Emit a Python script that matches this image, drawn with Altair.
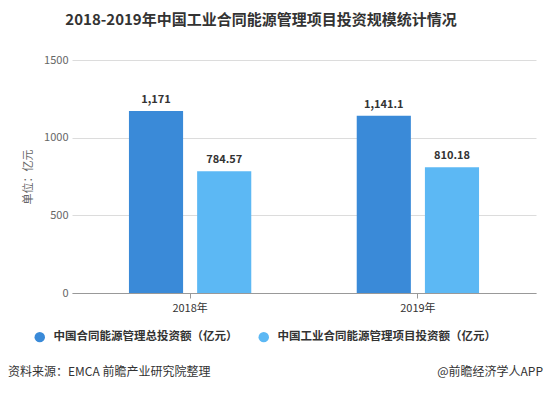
import altair as alt
import pandas as pd

years = ["2018年", "2019年"]
series = ["中国合同能源管理总投资额（亿元）", "中国工业合同能源管理项目投资额（亿元）"]
total_invest = [1171, 1141.1]
industry_invest = [784.57, 810.18]
colors = ["#3a8ad8", "#5cb8f4"]

rows = []
for i, y in enumerate(years):
    rows.append({"year": y, "series": series[0], "value": total_invest[i]})
    rows.append({"year": y, "series": series[1], "value": industry_invest[i]})
df = pd.DataFrame(rows)

font = "Noto Sans CJK SC"
yscale = alt.Scale(domain=[0, 1500], nice=False)

x_enc = alt.X("year:N", title=None, sort=years,
              scale=alt.Scale(paddingInner=0.463, paddingOuter=0.25),
              axis=alt.Axis(labelAngle=0, labelColor="#333", labelFontSize=11, labelFont=font,
                            domainColor="#999", tickColor="#999", tickSize=5, labelPadding=4,
                            grid=False))
xoff = alt.XOffset("series:N", sort=series, scale=alt.Scale(paddingInner=0.206, paddingOuter=0))
y_enc = alt.Y("value:Q", title="单位：亿元", scale=yscale,
              axis=alt.Axis(values=[0, 500, 1000, 1500], format="d", labelColor="#666", labelFontSize=11,
                            labelFont=font, titleFont=font, titleFontSize=11, titleColor="#666",
                            titleFontWeight="normal", titlePadding=10, labelPadding=4,
                            domain=False, ticks=False, gridColor="#dcdcdc"))

bars = alt.Chart(df).mark_bar().encode(
    x=x_enc, xOffset=xoff, y=y_enc,
    color=alt.Color("series:N", sort=series, scale=alt.Scale(domain=series, range=colors),
                    legend=alt.Legend(title=None, orient="none", legendX=-38, legendY=271,
                                      direction="horizontal", columns=2, columnPadding=20,
                                      symbolType="circle", symbolSize=110, symbolStrokeWidth=0,
                                      labelFont=font, labelFontSize=11.5, labelColor="#333",
                                      labelFontWeight="bold", labelLimit=400, labelOffset=8)),
)

labels = alt.Chart(df).mark_text(dy=-6, fontWeight="bold", fontSize=11, font=font,
                                 color="#333", baseline="bottom").encode(
    x=alt.X("year:N", sort=years), xOffset=alt.XOffset("series:N", sort=series),
    y=alt.Y("value:Q", scale=yscale),
    text=alt.Text("value:Q", format=","),
)

src = pd.DataFrame({"t": ["资料来源：EMCA 前瞻产业研究院整理"]})
source = alt.Chart(src).mark_text(align="left", baseline="middle", fontSize=12, font=font,
                                  color="#333").encode(
    x=alt.value(-64), y=alt.value(312), text="t:N")
app = pd.DataFrame({"t": ["@前瞻经济学人APP"]})
apptext = alt.Chart(app).mark_text(align="right", baseline="middle", fontSize=12, font=font,
                                   color="#333").encode(
    x=alt.value(471), y=alt.value(312), text="t:N")

chart = alt.layer(bars, labels, source, apptext).properties(
    width=464, height=233,
    title=alt.TitleParams("2018-2019年中国工业合同能源管理项目投资规模统计情况",
                          font=font, fontSize=15, fontWeight="bold", color="#333",
                          anchor="middle", dx=-43, offset=26),
    autosize=alt.AutoSizeParams(type="none"),
    padding={"left": 64, "top": 52, "right": 9, "bottom": 93},
).configure_view(stroke=None).configure_scale(bandWithNestedOffsetPaddingInner=0.463)

chart.save("out.html", embed_options={"renderer": "svg", "actions": False})
